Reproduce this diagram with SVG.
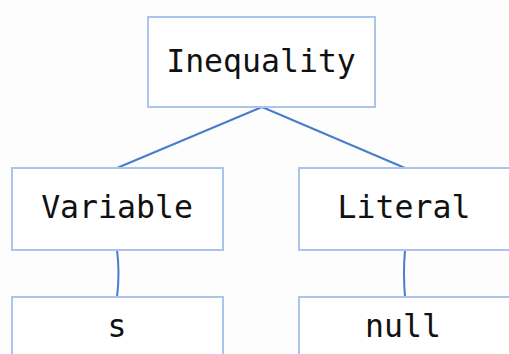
<svg xmlns="http://www.w3.org/2000/svg" width="509" height="354" viewBox="0 0 509 354">
<style>
.box{fill:#ffffff;stroke:#aac4ea;stroke-width:2}
.lbl{font-family:"DejaVu Sans Mono","Liberation Mono",monospace;font-size:31.5px;fill:#111111;text-anchor:middle}
.edge{fill:none;stroke:#4a7ccc;stroke-width:2}
</style>
<rect width="509" height="354" fill="#fdfdfd"/>
<g id="connectors">
<path class="edge" d="M262,107 L117,168"/>
<path class="edge" d="M262,107 L405,168"/>
<path class="edge" d="M117,250 Q120,273 117,297"/>
<path class="edge" d="M405,250 Q403,273 405,297"/>
</g>
<g id="n-inequality"><rect class="box" x="148" y="17" width="227" height="90"/><text class="lbl" x="261" y="72">Inequality</text></g>
<g id="n-variable"><rect class="box" x="12" y="168" width="211" height="82"/><text class="lbl" x="117" y="218">Variable</text></g>
<g id="n-literal"><rect class="box" x="299" y="168" width="211" height="82"/><text class="lbl" x="404" y="218">Literal</text></g>
<g id="n-s"><rect class="box" x="12" y="297" width="211" height="70"/><text class="lbl" x="117" y="337">s</text></g>
<g id="n-null"><rect class="box" x="299" y="297" width="211" height="70"/><text class="lbl" x="403" y="337">null</text></g>
</svg>
